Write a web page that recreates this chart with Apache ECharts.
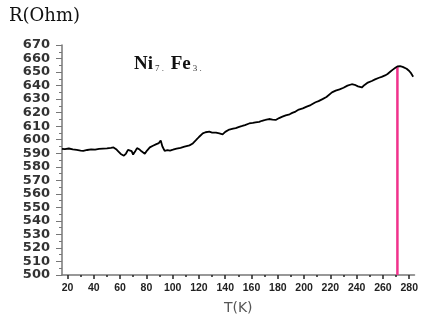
<!DOCTYPE html>
<html>
<head>
<meta charset="utf-8">
<script src="https://cdn.jsdelivr.net/npm/echarts@6/dist/echarts.min.js"></script>
<style>
  html, body { margin: 0; padding: 0; background: #fff; }
  #chart { width: 421px; height: 320px; }
</style>
</head>
<body>
<div id="chart"></div>
<script>
// temperature (K) and resistance (Ohm)
const temps = [15.8, 18, 21, 24, 27, 30, 32, 35, 38, 41, 44, 47, 50, 53, 55, 57, 58.6, 60.5, 62.9, 64.5,
  66, 67.4, 68.8, 69.9, 71.5, 72.9, 74.5, 76.3, 78.8, 80.5, 82.6, 85, 87.6, 89.5, 90.9, 92.2, 93.9, 96, 98, 100.2,
  103, 106, 109, 112.8, 115, 117.9, 120, 122.9, 125, 127.9, 130, 133, 135.5, 138, 140, 143.1, 146, 148, 150.6, 153,
  155, 158.2, 161, 163, 165.8, 168, 170.5, 173.3, 176, 178.4, 181, 183.5, 186, 189, 191, 193.5, 196, 199, 202, 205,
  208.7, 211, 214, 217, 221.2, 224, 227, 230, 233, 236.3, 238.5, 241, 243.9, 246, 248.5, 251.5, 254, 257, 259, 261.6,
  263.5, 265.5, 267.5, 269.2, 271, 273, 275, 276.5, 278, 280, 281.5, 283]
const resist = [593.3, 593.0, 593.5, 592.8, 592.5, 592.0, 591.8, 592.4, 592.9, 592.7, 593.2, 593.4, 593.6, 594.0, 594.3, 593.0, 591.4, 589.5, 588.2, 589.8,
  592.5, 593.8, 591.5, 589, 591.5, 593.8, 593, 591.4, 589.7, 592, 594.3, 595.5, 596.7, 597.5, 599.5, 595, 591.8, 592.3, 592, 592.6,
  593.4, 594, 594.8, 595.8, 597, 599.8, 602, 604.7, 605.5, 605.9, 605.3, 605.2, 604.6, 604, 605.8, 607.5, 608.2, 608.6, 609.5, 610.2,
  610.8, 612, 612.4, 612.8, 613.2, 614, 614.6, 615.3, 614.8, 614.6, 616, 617, 618, 618.8, 619.8, 620.8, 622.3, 623.2, 624.5, 625.6,
  627.7, 628.5, 630, 631.6, 635, 636.3, 637.2, 638.4, 640, 641, 640.6, 639.4, 638.6, 640.5, 642.2, 643.4, 644.6, 645.8, 646.5, 647.5,
  648.6, 650.2, 651.8, 653, 654.2, 654.3, 653.8, 653.2, 652.4, 650.8, 649, 646.6]
// pink marker at the peak
const markerT = [271, 271]
const markerR = [500, 654.2]
// axis ticks
const xTicks = [20, 40, 60, 80, 100, 120, 140, 160, 180, 200, 220, 240, 260, 280]
const xMinorTicks = [30, 50, 70, 90, 110, 130, 150, 170, 190, 210, 230, 250, 270]

const chart = echarts.init(document.getElementById('chart'))
const axisGray = '#777'

chart.setOption({
  backgroundColor: '#fff',
  animation: false,
  grid: { left: 62, right: 5, top: 45, bottom: 41, containLabel: false },
  xAxis: [
    {
      type: 'value',
      min: 15.8,
      max: 284,
      name: 'T(K)',
      nameLocation: 'middle',
      nameGap: 26,
      nameTextStyle: { fontFamily: 'DejaVu Sans', fontSize: 14, color: '#555' },
      axisLine: { lineStyle: { color: axisGray, width: 1.5 } },
      axisTick: { customValues: xTicks, length: 4, lineStyle: { color: '#222', width: 1.5 } },
      axisLabel: {
        customValues: xTicks,
        fontFamily: 'Liberation Sans',
        fontWeight: 'bold',
        fontSize: 10.5,
        color: '#222',
        margin: 8
      },
      splitLine: { show: false }
    },
    {
      type: 'value',
      min: 15.8,
      max: 284,
      position: 'bottom',
      axisLine: { show: false },
      axisTick: { customValues: xMinorTicks, length: 2, lineStyle: { color: '#222', width: 1.5 } },
      axisLabel: { show: false },
      splitLine: { show: false }
    }
  ],
  yAxis: {
    type: 'value',
    min: 500,
    max: 670,
    interval: 10,
    axisLine: { show: true, lineStyle: { color: axisGray, width: 1.5 } },
    axisTick: { show: true, length: 6, lineStyle: { color: axisGray } },
    minorTick: { show: true, splitNumber: 2, length: 3, lineStyle: { color: axisGray } },
    axisLabel: {
      fontFamily: 'DejaVu Sans',
      fontWeight: 'bold',
      fontSize: 13,
      color: '#333',
      margin: 12
    },
    splitLine: { show: false }
  },
  graphic: [
    {
      type: 'text',
      left: 9,
      top: 7,
      style: {
        text: 'R(Ohm)',
        fontFamily: 'DejaVu Serif',
        fontSize: 18,
        fill: '#111'
      }
    },
    {
      type: 'text',
      left: 134,
      top: 55,
      style: {
        text: '{b|Ni}{s|7 .}  {b|Fe}{s|3 .}',
        rich: {
          b: { fontFamily: 'Liberation Serif', fontWeight: 'bold', fontSize: 19, fill: '#111' },
          s: { fontFamily: 'Liberation Serif', fontSize: 9, fill: '#333', padding: [9, 0, 0, 2] }
        }
      }
    }
  ],
  series: [
    {
      type: 'line',
      xAxisIndex: 0,
      data: temps.map((t, i) => [t, resist[i]]),
      showSymbol: false,
      lineStyle: { color: '#000', width: 1.8 }
    },
    {
      type: 'line',
      xAxisIndex: 0,
      data: markerT.map((t, i) => [t, markerR[i]]),
      showSymbol: false,
      lineStyle: { color: '#f0328c', width: 2.5 },
      z: 1
    }
  ]
})
</script>
</body>
</html>
